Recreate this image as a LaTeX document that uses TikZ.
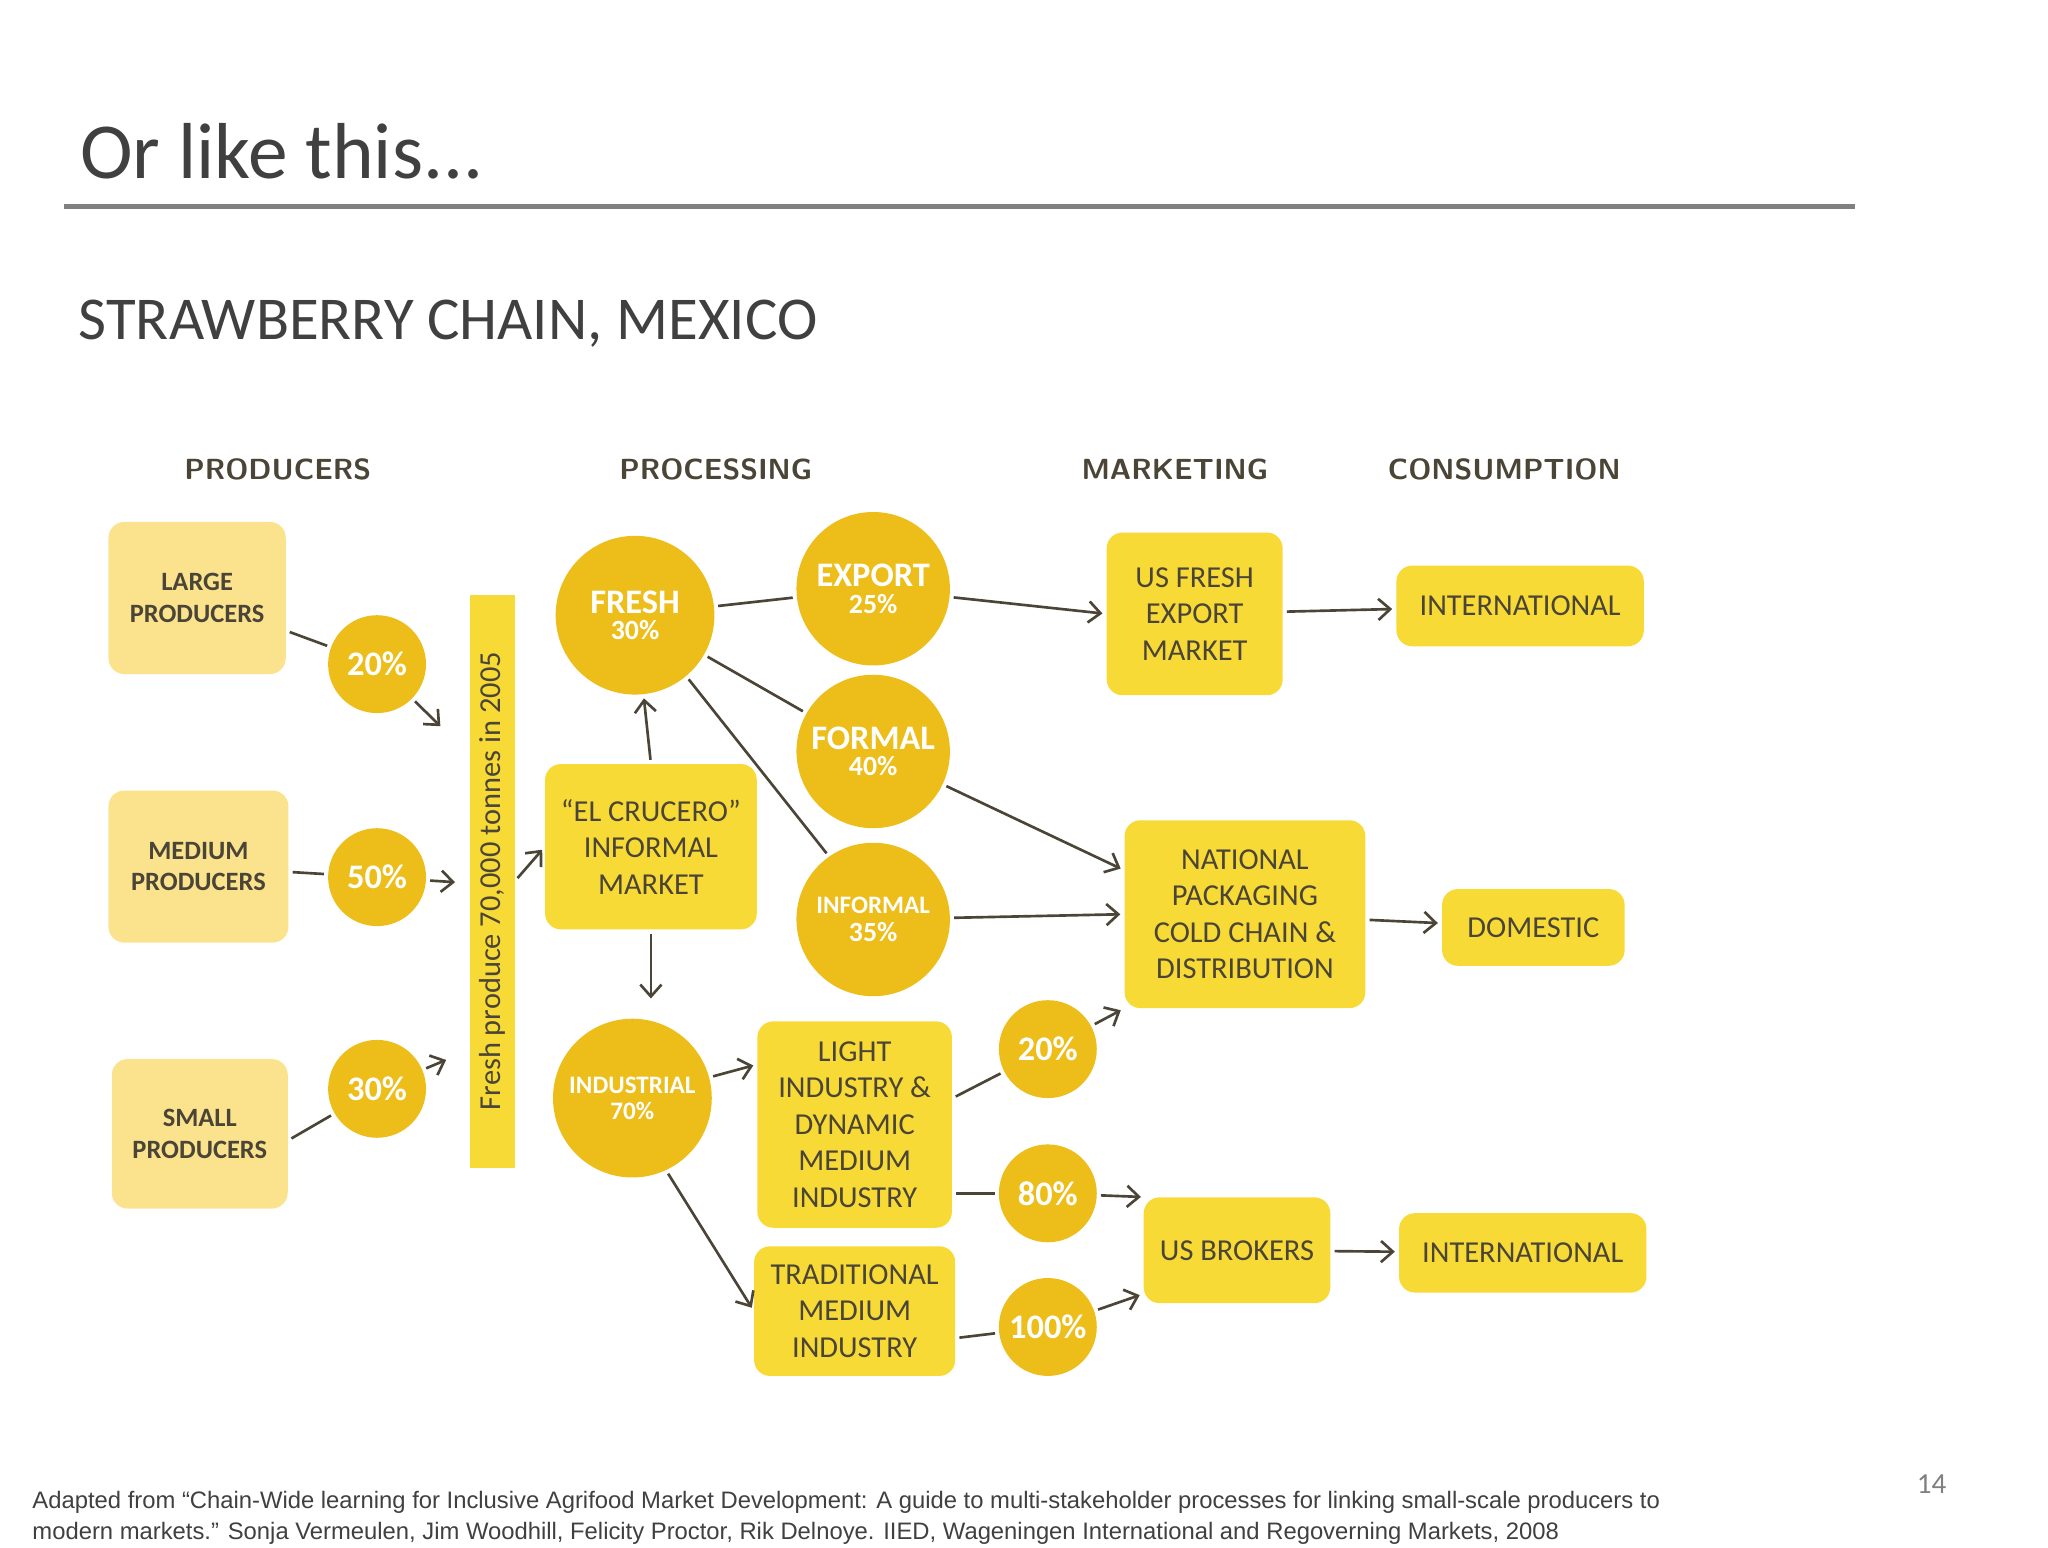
\documentclass[tikz,border=0pt]{standalone}
\usepackage{fontspec}
\setmainfont{Carlito}
\newfontfamily\foot{Liberation Sans}
\usetikzlibrary{arrows.meta}
\definecolor{pale}{HTML}{FBE38E}
\definecolor{bright}{HTML}{F8DA36}
\definecolor{gold}{HTML}{EDBD1A}
\definecolor{ink}{HTML}{4A4536}
\definecolor{ttl}{HTML}{404040}
\tikzset{
 pbox/.style={draw=none,fill=pale,rounded corners=12pt,text=ink,align=center,font=\fontsize{20}{24}\selectfont\bfseries,inner sep=0pt},
 ybox/.style={draw=none,fill=bright,rounded corners=12pt,text=ink,align=center,font=\fontsize{23}{27.5}\selectfont,inner sep=0pt},
 circ/.style={circle,fill=gold,text=white,align=center,inner sep=0pt,font=\fontsize{26}{22}\selectfont\bfseries},
 hdr/.style={text=ink,font=\fontsize{22}{26}\selectfont\bfseries\sffamily},
 ln/.style={draw=ink,line width=2pt,shorten <=3pt,shorten >=3pt},
 ar/.style={ln,-{Straight Barb[length=9pt,width=16pt,line width=2pt]}},
}
\begin{document}
\begin{tikzpicture}[x=1pt,y=-1pt]
\useasboundingbox[fill=white] (0,0) rectangle (1548,1170);
\node[anchor=base west,text=ttl,font=\fontsize{60}{60}\selectfont] (title) at (57,135) {Or like this...};
\draw[line width=4pt,color=gray] (48,156) -- (1402,156);
\node[anchor=west,text=ttl,font=\fontsize{46}{46}\selectfont] (sub) at (56,245) {STRAWBERRY CHAIN, MEXICO};
\node[hdr] (h1) at (210,355) {PRODUCERS};
\node[hdr] (h2) at (541,355) {PROCESSING};
\node[hdr] (h3) at (888,355) {MARKETING};
\node[hdr] (h4) at (1137,355) {CONSUMPTION};
% producers
\node[pbox,minimum width=134pt,minimum height=115pt] (large) at (149,452) {LARGE\\PRODUCERS};
\node[pbox,minimum width=136pt,minimum height=115pt] (medium) at (150,655) {MEDIUM\\PRODUCERS};
\node[pbox,minimum width=133pt,minimum height=113pt] (small) at (151,857) {SMALL\\PRODUCERS};
\node[circ,minimum size=74pt] (c20) at (285,502) {20\%};
\node[circ,minimum size=74pt] (c50) at (285,663) {50\%};
\node[circ,minimum size=74pt] (c30) at (285,823) {30\%};
\node[fill=bright,rotate=90,minimum width=433pt,minimum height=34pt,inner sep=0pt,text=ink,font=\fontsize{23}{23}\selectfont] (bar) at (372,666) {Fresh produce 70,000 tonnes in 2005};
% processing
\node[circ,minimum size=120pt] (fresh) at (480,465) {FRESH\\[-2pt]{\fontsize{21}{21}\selectfont 30\%}};
\node[ybox,minimum width=160pt,minimum height=125pt] (cruc) at (492,640) {“EL CRUCERO”\\INFORMAL\\MARKET};
\node[circ,minimum size=120pt,font=\fontsize{19}{20}\selectfont\bfseries] (ind) at (478,830) {INDUSTRIAL\\70\%};
\node[circ,minimum size=116pt] (exp) at (660,445) {EXPORT\\[-2pt]{\fontsize{21}{21}\selectfont 25\%}};
\node[circ,minimum size=116pt] (form) at (660,568) {FORMAL\\[-2pt]{\fontsize{21}{21}\selectfont 40\%}};
\node[circ,minimum size=116pt,font=\fontsize{19}{21}\selectfont\bfseries] (inf) at (660,695) {INFORMAL\\{\fontsize{21}{21}\selectfont 35\%}};
\node[ybox,minimum width=147pt,minimum height=156pt] (light) at (646,850) {LIGHT\\INDUSTRY \&\\DYNAMIC\\MEDIUM\\INDUSTRY};
\node[ybox,minimum width=152pt,minimum height=98pt] (trad) at (646,991) {TRADITIONAL\\MEDIUM\\INDUSTRY};
\node[circ,minimum size=74pt] (d20) at (792,793) {20\%};
\node[circ,minimum size=74pt] (d80) at (792,902) {80\%};
\node[circ,minimum size=74pt] (d100) at (792,1003) {100\%};
% marketing
\node[ybox,minimum width=133pt,minimum height=123pt] (usf) at (903,464) {US FRESH\\EXPORT\\MARKET};
\node[ybox,minimum width=182pt,minimum height=142pt] (nat) at (941,691) {NATIONAL\\PACKAGING\\COLD CHAIN \&\\DISTRIBUTION};
\node[ybox,minimum width=141pt,minimum height=80pt] (usb) at (935,945) {US BROKERS};
% consumption
\node[ybox,minimum width=187pt,minimum height=61pt] (int1) at (1149,458) {INTERNATIONAL};
\node[ybox,minimum width=138pt,minimum height=58pt] (dom) at (1159,701) {DOMESTIC};
\node[ybox,minimum width=187pt,minimum height=60pt] (int2) at (1151,947) {INTERNATIONAL};
% connectors
\coordinate (b1) at (335,551); \coordinate (b2) at (347,667); \coordinate (b3) at (340,800);
\draw[ln] (large) -- (c20); \draw[ar] (c20) -- (b1);
\draw[ln] (medium) -- (c50); \draw[ar] (c50) -- (b2);
\draw[ln] (small.east) ++(0,5) -- (c30); \draw[ar] (c30) -- (b3);
\draw[ar] (bar.south) -- (cruc.west);
\draw[ar] (cruc.north) -- (fresh);
\draw[ar] (cruc.south) -- ++(0,55);
\draw[ln] (fresh) -- (exp);
\draw[ar] (exp) -- (usf.west);
\draw[ln] (fresh) -- (form);
\draw[ln] (fresh.-50) -- (inf.125);
\draw[ar] (form) -- (nat.160);
\draw[ar] (inf) -- (nat.west);
\draw[ar] (ind) -- (light.west|-ind.25);
\draw[ar] (ind.-65) -- (trad.west);
\draw[ln] (light.east|-d20.south) -- (d20);
\draw[ar] (d20) -- (nat.south west);
\draw[ln] (light.east|-d80) -- (d80);
\draw[ar] (d80) -- (usb.150);
\draw[ln] (trad.-15) -- (d100);
\draw[ar] (d100) -- (usb.-155);
\draw[ar] (usf) -- (int1);
\draw[ar] (nat) -- (dom);
\draw[ar] (usb) -- (int2);
% footer
\node[anchor=base west,align=left,text=ttl,font=\foot\fontsize{18}{24}\selectfont] (fn) at (21,1140) {Adapted from “Chain-Wide learning for Inclusive Agrifood Market Development: A guide to multi-stakeholder processes for linking small-scale producers to};
\node[anchor=base west,align=left,text=ttl,font=\foot\fontsize{18}{24}\selectfont] (fn2) at (21,1164) {modern markets.” Sonja Vermeulen, Jim Woodhill, Felicity Proctor, Rik Delnoye. IIED, Wageningen International and Regoverning Markets, 2008};
\node[text=gray,font=\fontsize{22}{22}\selectfont] (pg) at (1460,1122) {14};
\end{tikzpicture}
\end{document}
